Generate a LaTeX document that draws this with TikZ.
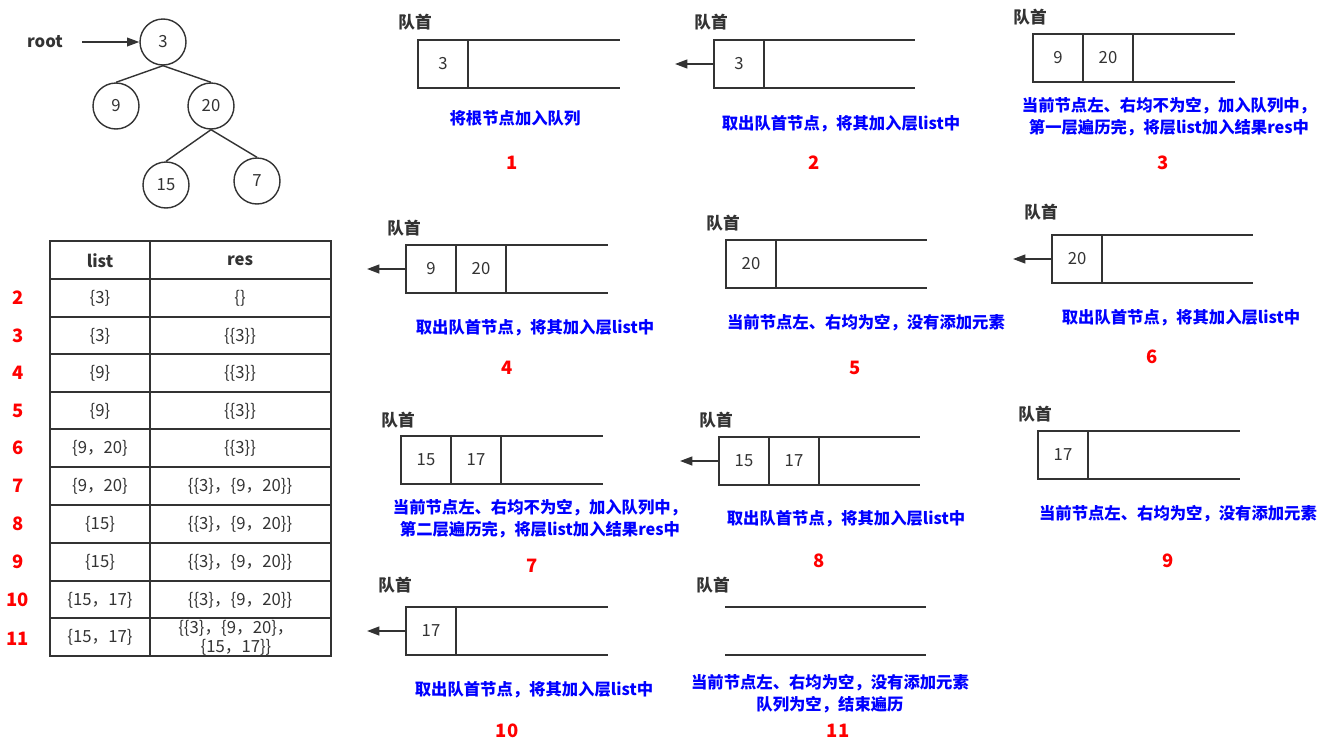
\documentclass[tikz,border=0pt]{standalone}
\usepackage{fontspec}
\setmainfont{Noto Sans CJK SC}
\usetikzlibrary{arrows.meta}
\definecolor{linegray}{RGB}{51,51,51}
\definecolor{capblue}{RGB}{0,0,255}
\definecolor{stepred}{RGB}{255,0,0}

\begin{document}
\begin{tikzpicture}[%
      x=0.02cm, y=-0.02cm,
      treenode/.style={circle, draw=linegray, line width=0.8pt, minimum size=0.92cm, inner sep=0pt, font=\fontsize{9.5pt}{11pt}\selectfont, text=linegray},
      tedge/.style={draw=linegray, line width=0.8pt},
      cell/.style={draw=linegray, line width=1pt, minimum width=1cm, minimum height=0.96cm, inner sep=0pt, font=\fontsize{9.5pt}{11pt}\selectfont, text=linegray},
      qline/.style={draw=linegray, line width=1pt},
      qhead/.style={font=\bfseries\fontsize{9.5pt}{11pt}\selectfont, text=linegray},
      note/.style={font=\bfseries\fontsize{9.3pt}{12.5pt}\selectfont, text=capblue, align=center},
      stepno/.style={font=\bfseries\fontsize{10.5pt}{12pt}\selectfont, text=stepred},
      outarr/.style={draw=linegray, line width=1pt, -{Triangle[length=7pt,width=5pt]}},
      tcell/.style={font=\fontsize{9.5pt}{10pt}\selectfont, text=linegray, align=center},
      ]
      \useasboundingbox (0,0) rectangle (1342,747);

      % tree
      \node[font=\bfseries\fontsize{9.5pt}{11pt}\selectfont, text=linegray] (root) at (45,42) {root};
      \coordinate (rootarr) at (82,42);
      \node[treenode] (n3) at (163,42) {3};
      \node[treenode] (n9) at (116,106) {9};
      \node[treenode] (n20) at (211,106) {20};
      \node[treenode] (n15) at (166,185) {15};
      \node[treenode] (n7) at (257,181) {7};
      \draw [draw=linegray, line width=0.8pt, -{Triangle[length=7pt,width=5pt]}] (rootarr) -- (n3);
      \draw [tedge] (n3.south) -- (n9.north);
      \draw [tedge] (n3.south) -- (n20.north);
      \draw [tedge] (n20.south) -- (n15.north);
      \draw [tedge] (n20.south) -- (n7.north);

      % table
      \draw [draw=linegray, line width=1pt] (50,241) rectangle (331,656);
      \draw [draw=linegray, line width=1pt] (150,241) -- (150,656);
      \foreach \yy in {279,317,354,392,429,467,505,543,581,618}
        \draw [draw=linegray, line width=1pt] (50,\yy) -- (331,\yy);
      \node[tcell, font=\bfseries\fontsize{9.5pt}{11pt}\selectfont] (hlist) at (100,261) {list};
      \node[tcell, font=\bfseries\fontsize{9.5pt}{11pt}\selectfont] (hres) at (240,261) {res};
      \foreach \i/\yy/\la/\re in {2/298/\{3\}/\{\},
                                  3/336/\{3\}/\{\{3\}\},
                                  4/373/\{9\}/\{\{3\}\},
                                  5/411/\{9\}/\{\{3\}\},
                                  6/448/\{9，20\}/\{\{3\}\},
                                  7/486/\{9，20\}/\{\{3\}，\{9，20\}\},
                                  8/524/\{15\}/\{\{3\}，\{9，20\}\},
                                  9/562/\{15\}/\{\{3\}，\{9，20\}\},
                                  10/600/\{15，17\}/\{\{3\}，\{9，20\}\}}
      {
        \node[stepno] (r\i) at (18,\yy) {\i};
        \node[tcell] (l\i) at (100,\yy) {\la};
        \node[tcell] (s\i) at (240,\yy) {\re};
      }
      \node[stepno] (r11) at (18,639) {11};
      \node[tcell] (l11) at (100,637) {\{15，17\}};
      \node[tcell, font=\fontsize{9.5pt}{10.5pt}\selectfont] (s11) at (236,638) {\{\{3\}，\{9，20\}，\\\{15，17\}\}};

      % step 1
      \node[qhead] (h1) at (415,22) {队首};
      \draw [qline] (418,40) -- (620,40);
      \draw [qline] (418,88) -- (620,88);
      \node[cell] (c1a) at (443,64) {3};
      \node[note] (t1) at (515,118) {将根节点加入队列};
      \node[stepno] (p1) at (512,163) {1};

      % step 2
      \node[qhead] (h2) at (711,22) {队首};
      \draw [qline] (714,40) -- (915,40);
      \draw [qline] (714,88) -- (915,88);
      \node[cell] (c2a) at (739,64) {3};
      \coordinate (o2) at (675,64);
      \draw [outarr] (c2a.west) -- (o2);
      \node[note] (t2) at (841,124) {取出队首节点，将其加入层list中};
      \node[stepno] (p2) at (814,163) {2};

      % step 3
      \node[qhead] (h3) at (1030,17) {队首};
      \draw [qline] (1033,34) -- (1235,34);
      \draw [qline] (1033,82) -- (1235,82);
      \node[cell] (c3a) at (1058,58) {9};
      \node[cell] (c3b) at (1108,58) {20};
      \node[note] (t3) at (1169,117) {当前节点左、右均不为空，加入队列中，\\ 第一层遍历完，将层list加入结果res中};
      \node[stepno] (p3) at (1163,163) {3};

      % step 4
      \node[qhead] (h4) at (404,228) {队首};
      \draw [qline] (406,245) -- (608,245);
      \draw [qline] (406,293) -- (608,293);
      \node[cell] (c4a) at (431,269) {9};
      \node[cell] (c4b) at (481,269) {20};
      \coordinate (o4) at (367,269);
      \draw [outarr] (c4a.west) -- (o4);
      \node[note] (t4) at (535,328) {取出队首节点，将其加入层list中};
      \node[stepno] (p4) at (507,368) {4};

      % step 5
      \node[qhead] (h5) at (723,223) {队首};
      \draw [qline] (726,240) -- (927,240);
      \draw [qline] (726,288) -- (927,288);
      \node[cell] (c5a) at (751,264) {20};
      \node[note] (t5) at (866,323) {当前节点左、右均为空，没有添加元素};
      \node[stepno] (p5) at (855,368) {5};

      % step 6
      \node[qhead] (h6) at (1041,212) {队首};
      \draw [qline] (1052,235) -- (1253,235);
      \draw [qline] (1052,283) -- (1253,283);
      \node[cell] (c6a) at (1077,259) {20};
      \coordinate (o6) at (1013,259);
      \draw [outarr] (c6a.west) -- (o6);
      \node[note] (t6) at (1181,318) {取出队首节点，将其加入层list中};
      \node[stepno] (p6) at (1152,357) {6};

      % step 7
      \node[qhead] (h7) at (398,420) {队首};
      \draw [qline] (401,436) -- (603,436);
      \draw [qline] (401,484) -- (603,484);
      \node[cell] (c7a) at (426,460) {15};
      \node[cell] (c7b) at (476,460) {17};
      \node[note] (t7) at (540,519) {当前节点左、右均不为空，加入队列中，\\ 第二层遍历完，将层list加入结果res中};
      \node[stepno] (p7) at (532,566) {7};

      % step 8
      \node[qhead] (h8) at (716,420) {队首};
      \draw [qline] (719,437) -- (920,437);
      \draw [qline] (719,485) -- (920,485);
      \node[cell] (c8a) at (744,461) {15};
      \node[cell] (c8b) at (794,461) {17};
      \coordinate (o8) at (680,461);
      \draw [outarr] (c8a.west) -- (o8);
      \node[note] (t8) at (846,519) {取出队首节点，将其加入层list中};
      \node[stepno] (p8) at (819,561) {8};

      % step 9
      \node[qhead] (h9) at (1035,414) {队首};
      \draw [qline] (1038,431) -- (1240,431);
      \draw [qline] (1038,479) -- (1240,479);
      \node[cell] (c9a) at (1063,455) {17};
      \node[note] (t9) at (1178,514) {当前节点左、右均为空，没有添加元素};
      \node[stepno] (p9) at (1168,561) {9};

      % step 10
      \node[qhead] (h10) at (395,585) {队首};
      \draw [qline] (406,607) -- (608,607);
      \draw [qline] (406,655) -- (608,655);
      \node[cell] (c10a) at (431,631) {17};
      \coordinate (o10) at (367,631);
      \draw [outarr] (c10a.west) -- (o10);
      \node[note] (t10) at (534,690) {取出队首节点，将其加入层list中};
      \node[stepno] (p10) at (507,731) {10};

      % step 11
      \node[qhead] (h11) at (713,585) {队首};
      \draw [qline] (725,607) -- (926,607);
      \draw [qline] (725,655) -- (926,655);
      \node[note] (t11) at (830,694) {当前节点左、右均为空，没有添加元素\\ 队列为空，结束遍历};
      \node[stepno] (p11) at (838,731) {11};
\end{tikzpicture}
\end{document}
